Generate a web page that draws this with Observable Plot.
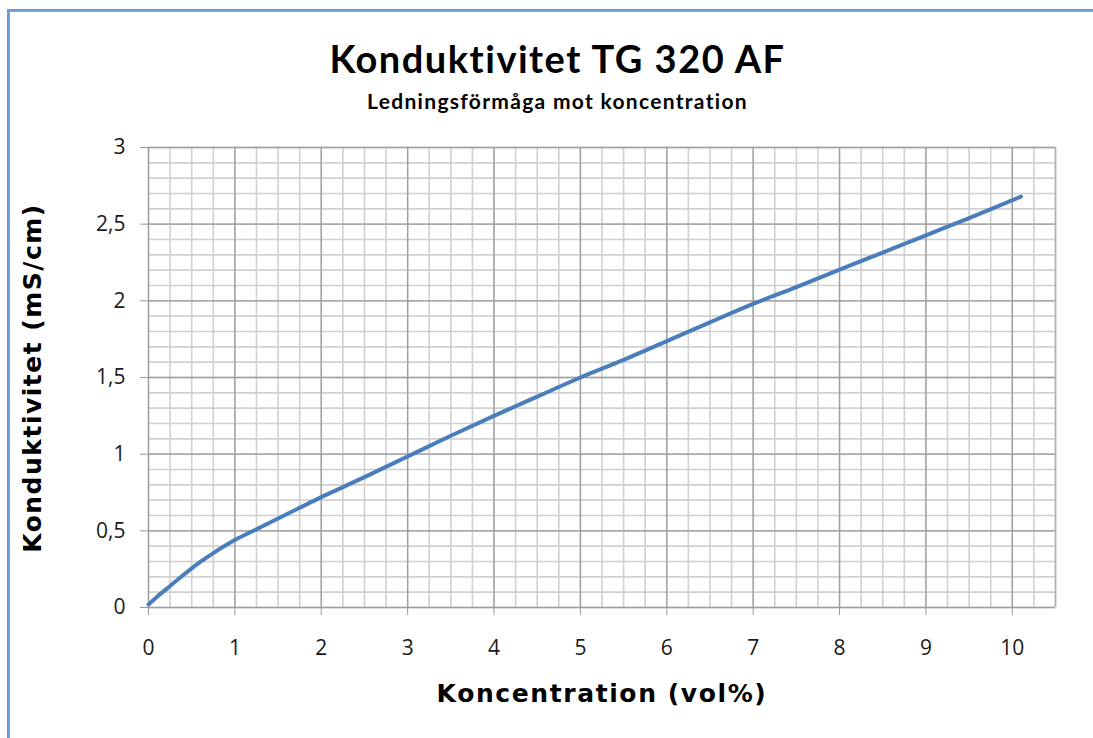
<!DOCTYPE html>
<html>
<head>
<meta charset="utf-8">
<script src="https://cdn.jsdelivr.net/npm/d3@7"></script>
<script src="https://cdn.jsdelivr.net/npm/@observablehq/plot@0.6"></script>
<style>
  html, body { margin: 0; padding: 0; background: #fff; }
  #page { position: relative; width: 1093px; height: 738px; overflow: hidden; background: #fff; }
  #border { position: absolute; left: 7px; top: 9px; width: 1100px; height: 740px; z-index: 5;
    border-top: 2px solid #6b9bd6; border-left: 2px solid #6b9bd6; }
  #border2 { position: absolute; left: 9px; top: 11px; width: 1100px; height: 740px; z-index: 5;
    border-top: 1px solid #9aa4b0; border-left: 1px solid #9aa4b0; }
  #title { position: absolute; left: 0; width: 1115px; top: 35px; text-align: center; letter-spacing: 1.5px;
    font-family: Lato, "Open Sans", sans-serif; font-weight: 700; font-size: 38px; color: #000; }
  #subtitle { position: absolute; left: 0; width: 1115px; top: 88px; text-align: center; letter-spacing: 1.3px;
    font-family: Lato, "Open Sans", sans-serif; font-weight: 700; font-size: 21px; color: #000; }
  #xtitle { position: absolute; left: 0; width: 1204px; top: 679px; text-align: center; letter-spacing: 1.6px;
    font-family: "DejaVu Sans", sans-serif; font-weight: 700; font-size: 25px; color: #000; }
  #ytitle { position: absolute; left: 32px; top: 378px; transform: translate(-50%, -50%) rotate(-90deg);
    letter-spacing: 1.5px;
    white-space: nowrap; font-family: "DejaVu Sans", sans-serif; font-weight: 700; font-size: 25px; color: #000; }
  #chart { position: absolute; left: 0; top: 120px; }
</style>
</head>
<body>
<div id="page">
  <div id="border"></div>
  <div id="border2"></div>
  <div id="title">Konduktivitet TG 320 AF</div>
  <div id="subtitle">Ledningsförmåga mot koncentration</div>
  <div id="chart"></div>
  <div id="xtitle">Koncentration (vol%)</div>
  <div id="ytitle">Konduktivitet (mS/cm)</div>
</div>
<script>
// Data
const koncentration = [0, 0.1, 0.25, 0.4, 0.5, 0.6, 0.75, 1.0, 1.25, 1.5, 1.75, 2.0, 2.5, 3.0, 3.5, 4.0, 4.5, 5.0, 5.5, 6.0, 6.5, 7.0, 7.5, 8.0, 8.5, 9.0, 9.5, 10.1];
const konduktivitet = [0.02, 0.07, 0.14, 0.21, 0.255, 0.297, 0.355, 0.44, 0.51, 0.58, 0.65, 0.72, 0.85, 0.985, 1.12, 1.25, 1.375, 1.50, 1.615, 1.737, 1.86, 1.98, 2.09, 2.203, 2.315, 2.427, 2.54, 2.68];

const xTicks = [0, 1, 2, 3, 4, 5, 6, 7, 8, 9, 10];
const yTicks = [0, 0.5, 1, 1.5, 2, 2.5, 3];
const xMinor = d3.range(0, 10.5001, 0.25);
const yMinor = d3.range(0, 3.0001, 0.1);

const data = koncentration.map((x, i) => ({x, y: konduktivitet[i]}));

const W = 1093, H = 618;
const chart = Plot.plot({
  width: W,
  height: H,
  marginLeft: 148,
  marginRight: 38,
  marginTop: 27,
  marginBottom: 131,
  style: { fontFamily: "'Open Sans', sans-serif", fontSize: "21px", color: "#1a1a1a", background: "transparent" },
  x: { domain: [0, 10.5], label: null },
  y: { domain: [0, 3], label: null },
  marks: [
    Plot.ruleX(xMinor, { stroke: "#d0d0d0", strokeWidth: 1.6 }),
    Plot.ruleY(yMinor, { stroke: "#d0d0d0", strokeWidth: 1.6 }),
    Plot.ruleX(xTicks, { stroke: "#9e9e9e", strokeWidth: 1.3 }),
    Plot.ruleY(yTicks, { stroke: "#9e9e9e", strokeWidth: 1.3 }),
    Plot.ruleX([10.5], { stroke: "#b0b0b0", strokeWidth: 1.5 }),
    Plot.axisX({ ticks: xTicks, tickSize: 8, tickPadding: 25, stroke: "#999", fontSize: 21, tickFormat: d => String(d) }),
    Plot.axisY({ ticks: yTicks, tickSize: 8, tickPadding: 15, stroke: "#999", fontSize: 21, tickFormat: d => String(d).replace(".", ",") }),
    Plot.line(data, { x: "x", y: "y", stroke: "#4a7ebb", strokeWidth: 4, curve: "catmull-rom", strokeLinecap: "round" })
  ]
});
document.getElementById("chart").appendChild(chart);
</script>
</body>
</html>
